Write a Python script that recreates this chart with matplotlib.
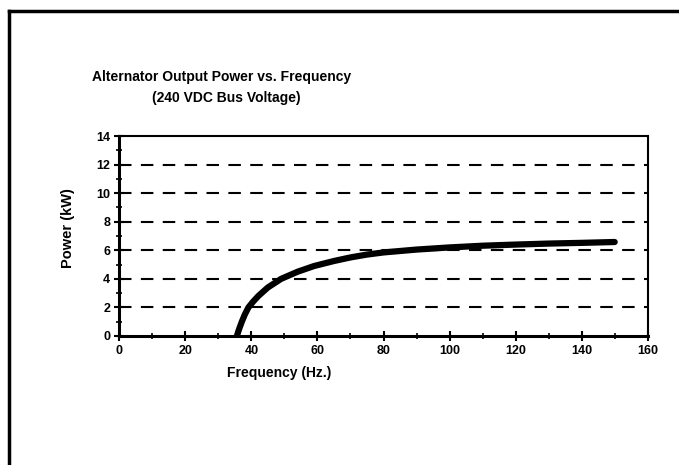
import matplotlib
matplotlib.use("Agg")
import matplotlib.pyplot as plt
from matplotlib.lines import Line2D
from matplotlib.ticker import MultipleLocator

plt.rcParams['font.family'] = ['Liberation Sans', 'DejaVu Sans']

# Data
freq_hz = [35.6, 36.3, 37.1, 38.0, 39.1, 40.5, 42.1, 45.0, 49.0, 51.0, 54.0, 59.0,
           65, 70, 75, 80, 90, 100, 110, 120, 130, 140, 150]
power_kw = [0.0, 0.5, 1.0, 1.5, 2.0, 2.4, 2.8, 3.4, 4.0, 4.2, 4.5, 4.9,
            5.25, 5.5, 5.7, 5.85, 6.05, 6.2, 6.32, 6.4, 6.47, 6.52, 6.58]
x_ticks = [0, 20, 40, 60, 80, 100, 120, 140, 160]
y_ticks = [0, 2, 4, 6, 8, 10, 12, 14]
grid_levels = [2, 4, 6, 8, 10, 12]

W, H = 679, 465
fig = plt.figure(figsize=(W / 100, H / 100), dpi=100)
fig.patch.set_facecolor('white')

ax = fig.add_axes([119.3 / W, 1 - 336 / H, (647.7 - 119.3) / W, (336 - 136) / H])
ax.set_xlim(0, 160)
ax.set_ylim(0, 14)

for g in grid_levels:
    ax.axhline(g, color='black', lw=1.5, ls=(0, (6, 4.5)), zorder=1)

ax.plot(freq_hz, power_kw, color='black', lw=4.5, solid_capstyle='round',
        solid_joinstyle='round', zorder=3)

ax.set_xticks(x_ticks)
ax.set_yticks(y_ticks)
ax.xaxis.set_minor_locator(MultipleLocator(10))
ax.yaxis.set_minor_locator(MultipleLocator(1))
ax.tick_params(axis='both', which='major', direction='inout', length=7, width=1.5,
               labelsize=9, pad=3)
ax.tick_params(axis='both', which='minor', direction='inout', length=5, width=1.2)
for lab in ax.get_xticklabels() + ax.get_yticklabels():
    lab.set_fontweight('bold')

ax.spines['left'].set_linewidth(2.2)
ax.spines['bottom'].set_linewidth(2.2)
ax.spines['top'].set_linewidth(1.5)
ax.spines['right'].set_linewidth(1.5)

fig.text(222 / W, 1 - 77 / H, 'Alternator Output Power vs. Frequency', ha='center', va='center',
         fontsize=10, fontweight='bold')
fig.text(226 / W, 1 - 98 / H, '(240 VDC Bus Voltage)', ha='center', va='center',
         fontsize=10, fontweight='bold')
fig.text(279 / W, 1 - 373 / H, 'Frequency (Hz.)', ha='center', va='center',
         fontsize=10, fontweight='bold')
fig.text(68 / W, 1 - 228 / H, 'Power (kW)', ha='center', va='center', rotation=90,
         fontsize=10.5, fontweight='bold')

# page border
fig.add_artist(Line2D([9 / W, 1.0], [1 - 11 / H, 1 - 11 / H], transform=fig.transFigure,
                      color='black', lw=2.5))
fig.add_artist(Line2D([9 / W, 9 / W], [0, 1 - 11 / H], transform=fig.transFigure,
                      color='black', lw=2.5))

fig.savefig('out.png', dpi=100)
